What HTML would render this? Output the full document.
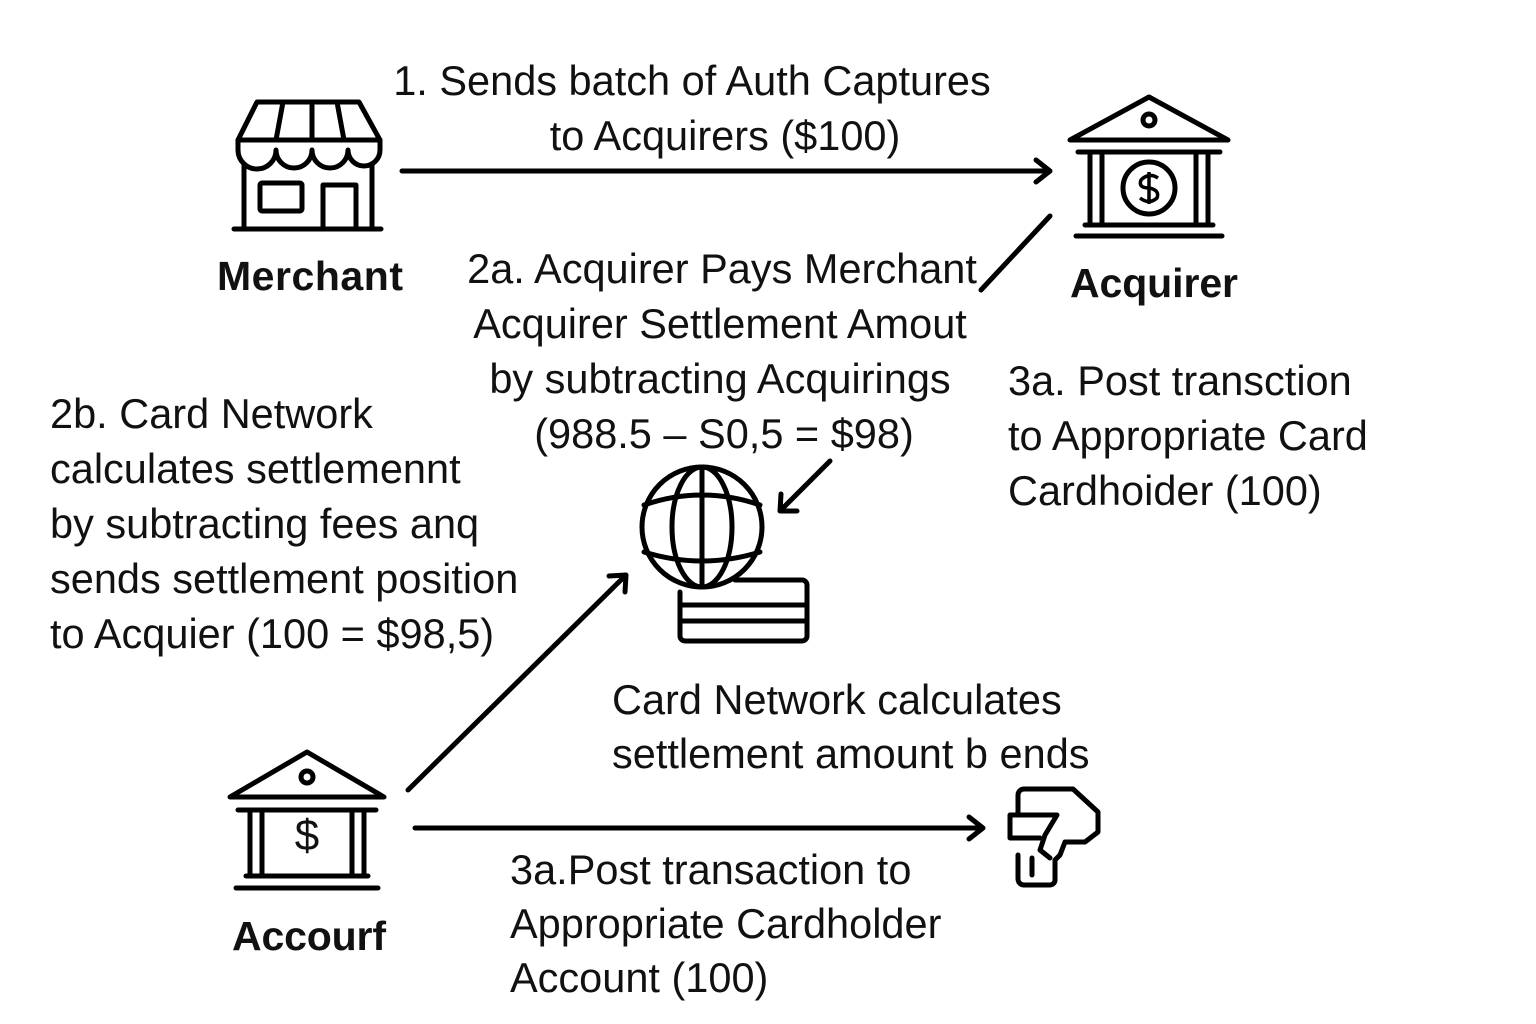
<!DOCTYPE html>
<html><head><meta charset="utf-8"><style>
html,body{margin:0;padding:0;background:#fff}
svg{display:block}
text{font-family:"Liberation Sans",sans-serif;fill:#111}
.t{font-size:41.5px;letter-spacing:0}
.b{font-size:41px;font-weight:bold}
</style></head><body>
<svg width="1536" height="1024" viewBox="0 0 1536 1024" xmlns="http://www.w3.org/2000/svg">
<g fill="none" stroke="#000" stroke-width="5" stroke-linecap="round" stroke-linejoin="round">
<path d="M257 102 H359 L380 140 H238 Z"/>
<path d="M283 102 L276 140 M312 102 V140 M337 102 L344 140"/>
<path d="M238 140 v10 a19 19 0 0 0 38 0 a18 18 0 0 0 36 0 a18 18 0 0 0 36 0 a16 16 0 0 0 32 0 v-10"/>
<path d="M244 165 V228 M372 165 V228 M234 229 H381"/>
<rect x="260" y="183" width="42" height="28" rx="2"/>
<path d="M323 228 V185 H356 V228"/>
<path d="M1070 140 L1149 97 L1228 140 Z"/>
<circle cx="1149" cy="120" r="6"/>
<path d="M1078 152 H1220 M1076 236 H1222 M1085 225 H1213"/>
<path d="M1090 152 V225 M1102 152 V225 M1196 152 V225 M1208 152 V225"/>
<circle cx="1149" cy="188" r="26"/>
<path d="M230 797 L307 752 L384 797 Z"/>
<circle cx="307" cy="777" r="6"/>
<path d="M238 810 H376 M236 888 H378 M246 876 H368"/>
<path d="M250 810 V876 M262 810 V876 M352 810 V876 M364 810 V876"/>
<circle cx="702" cy="527" r="60"/>
<ellipse cx="702" cy="527" rx="30" ry="60"/>
<path d="M702 467 V587 M644 505 Q702 485 760 505 M644 552 Q702 570 760 552"/>
<path d="M735 580 H802 a5 5 0 0 1 5 5 V636 a5 5 0 0 1 -5 5 H685 a5 5 0 0 1 -5 -5 V592"/>
<path d="M680 605 H807 M680 621 H807"/>
<path d="M1018 815 V795 a6 6 0 0 1 6 -6 H1073 L1098 812 V832 L1085 842 H1065 L1060 855 L1055 860 V880 a5 5 0 0 1 -5 5 H1024 a6 6 0 0 1 -6 -6 V855"/>
<path d="M1010 815 H1057 L1045 835 L1040 850 L1050 858 M1010 815 V838 H1040"/>
<path d="M1032 858 V875"/>
<path d="M402 171 H1050 M1036 160 L1050 171 L1036 182"/>
<path d="M1050 216 L981 290"/>
<path d="M830 461 L780 511 M781 494 L780 511 L797 511"/>
<path d="M408 790 L626 575 M609 576 L626 575 L625 592"/>
<path d="M415 828 H983 M969 817 L983 828 L969 839"/>
</g>
<path d="M1149 172 V204 M1158 178 Q1149 172 1141 180 Q1138 188 1149 188 Q1160 190 1157 198 Q1149 205 1140 198" fill="none" stroke="#000" stroke-width="3.5"/>
<text x="307" y="850" text-anchor="middle" style="font-size:44px">$</text>
<text class="b" x="217" y="290" textLength="186">Merchant</text>
<text class="b" x="1070" y="297" textLength="168">Acquirer</text>
<text class="b" x="232" y="950" textLength="154">Accourf</text>
<g class="t">
<text x="692" y="95" text-anchor="middle">1. Sends batch of Auth Captures</text>
<text x="725" y="150" text-anchor="middle">to Acquirers ($100)</text>
<text x="722" y="283" text-anchor="middle">2a. Acquirer Pays Merchant</text>
<text x="720" y="338" text-anchor="middle">Acquirer Settlement Amout</text>
<text x="720" y="393" text-anchor="middle">by subtracting Acquirings</text>
<text x="724" y="448" text-anchor="middle">(988.5 – S0,5 = $98)</text>
<text x="1008" y="395">3a. Post transction</text>
<text x="1008" y="450">to Appropriate Card</text>
<text x="1008" y="505">Cardhoider (100)</text>
<text x="50" y="428">2b. Card Network</text>
<text x="50" y="483">calculates settlemennt</text>
<text x="50" y="538">by subtracting fees anq</text>
<text x="50" y="593">sends settlement position</text>
<text x="50" y="648">to Acquier (100 = $98,5)</text>
<text x="612" y="714">Card Network calculates</text>
<text x="612" y="768">settlement amount b ends</text>
<text x="510" y="884">3a.Post transaction to</text>
<text x="510" y="938">Appropriate Cardholder</text>
<text x="510" y="992">Account (100)</text>
</g>
</svg>
</body></html>
